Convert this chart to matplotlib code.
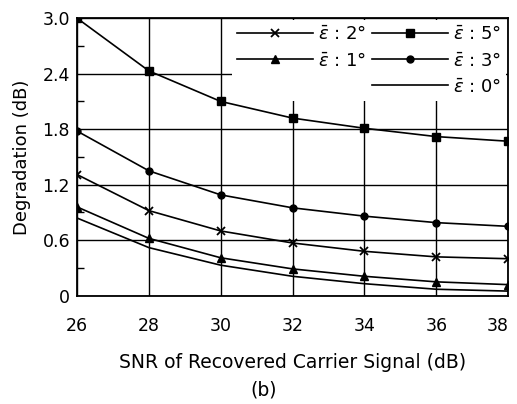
import numpy as np
import matplotlib as mpl
import matplotlib.pyplot as plt
from matplotlib.lines import Line2D

mpl.rcParams['font.family'] = ['DejaVu Sans']
mpl.rcParams['mathtext.fontset'] = 'dejavusans'

# SNR 轴
snr = [26, 28, 30, 32, 34, 36, 38]
# 各误差角下的劣化值 (dB)
deg_5 = [3.00, 2.43, 2.10, 1.92, 1.81, 1.72, 1.67]
deg_3 = [1.78, 1.35, 1.09, 0.95, 0.86, 0.79, 0.75]
deg_2 = [1.31, 0.92, 0.70, 0.57, 0.48, 0.42, 0.40]
deg_1 = [0.96, 0.62, 0.41, 0.29, 0.21, 0.15, 0.12]
deg_0 = [0.84, 0.52, 0.33, 0.21, 0.13, 0.07, 0.05]

yticks = [0, 0.6, 1.2, 1.8, 2.4, 3.0]
ytick_labels = ['0', '0.6', '1.2', '1.8', '2.4', '3.0']

fig = plt.figure(figsize=(5.17, 4.04), dpi=100)
ax = fig.add_axes([0.149, 0.268, 0.834, 0.687])

lw = 1.2
l2, = ax.plot(snr, deg_2, 'k-', marker='x', ms=6, mew=1.3, lw=lw)
l1, = ax.plot(snr, deg_1, 'k-', marker='^', ms=6, lw=lw)
l5, = ax.plot(snr, deg_5, 'k-', marker='s', ms=6, lw=lw)
l3, = ax.plot(snr, deg_3, 'k-', marker='o', ms=5, lw=lw)
l0, = ax.plot(snr, deg_0, 'k-', lw=lw)

ax.set_xlim(26, 38)
ax.set_ylim(0, 3.0)
ax.set_xticks(snr)
ax.set_yticks(yticks)
ax.set_yticklabels(ytick_labels)
ax.set_yticks(np.arange(0.3, 3.0, 0.6), minor=True)
ax.tick_params(axis='both', which='major', length=0, labelsize=12.5)
ax.tick_params(axis='x', which='major', pad=15)
ax.tick_params(axis='y', which='major', pad=5)
ax.tick_params(axis='y', which='minor', direction='in', length=5, width=1)
ax.grid(True, which='major', color='k', lw=1)
for s in ax.spines.values():
    s.set_linewidth(1.3)
# 最右边的刻度标签往左挪，免得被裁掉
ax.get_xticklabels()[-1].set_horizontalalignment('right')

ax.set_xlabel('SNR of Recovered Carrier Signal (dB)', fontsize=13.5, labelpad=13)
ax.set_ylabel('Degradation (dB)', fontsize=13, labelpad=8)

blank = Line2D([], [], linestyle='none')
lab = r'$\bar{\varepsilon}$'
handles = [l2, l1, blank, l5, l3, l0]
labels = [lab + ' : 2°', lab + ' : 1°', '', lab + ' : 5°', lab + ' : 3°', lab + ' : 0°']
leg = ax.legend(handles, labels, ncol=2, loc='upper right', fontsize=13,
                handlelength=4.2, handletextpad=0.3, columnspacing=0.3,
                labelspacing=0.45, borderaxespad=0.1, borderpad=0.3,
                frameon=True, fancybox=False, framealpha=1, edgecolor='none')
leg.set_zorder(2.4)

fig.text(0.509, 0.012, '(b)', ha='center', va='bottom', fontsize=13.5)

plt.savefig('out.png')
